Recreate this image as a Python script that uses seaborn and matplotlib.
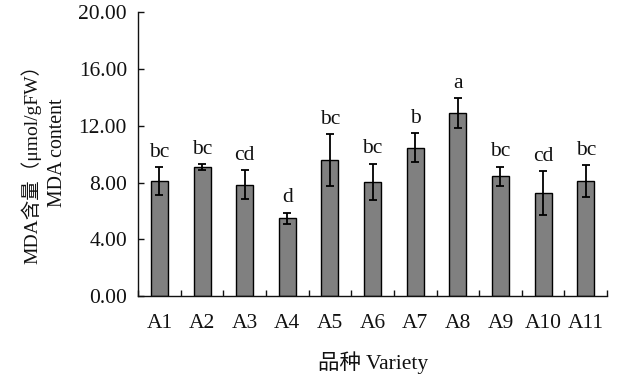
import numpy as np
import pandas as pd
import matplotlib
matplotlib.use("Agg")
import matplotlib.pyplot as plt
import seaborn as sns
from matplotlib.ticker import FixedLocator, FormatStrFormatter

categories = ["A1", "A2", "A3", "A4", "A5", "A6", "A7", "A8", "A9", "A10", "A11"]
means = [8.08, 9.08, 7.86, 5.47, 9.58, 8.05, 10.45, 12.91, 8.45, 7.25, 8.10]
errors = [0.99, 0.20, 1.03, 0.41, 1.85, 1.28, 1.03, 1.03, 0.68, 1.55, 1.12]
letters = ["bc", "bc", "cd", "d", "bc", "bc", "b", "a", "bc", "cd", "bc"]
yticks = [0, 4, 8, 12, 16, 20]

sns.set_theme(style="ticks")
plt.rcParams["font.family"] = ["Liberation Serif", "Noto Sans CJK SC"]
plt.rcParams["axes.unicode_minus"] = False

FS = 15.5
TXT = "#111111"

df = pd.DataFrame({"variety": categories, "mda": means})

fig = plt.figure(figsize=(6.22, 3.78), dpi=100)
ax = fig.add_axes([0.222, 0.217, 0.754, 0.750])

sns.barplot(data=df, x="variety", y="mda", order=categories, color="#808080",
            saturation=1, width=0.4, edgecolor="black", linewidth=1.0,
            errorbar=None, ax=ax)

pos = np.arange(len(categories))
ax.errorbar(pos, means, yerr=errors, fmt="none", ecolor="black",
            elinewidth=1.3, capsize=2.7, capthick=1.3, zorder=5)

for x, m, e, t in zip(pos, means, errors, letters):
    ax.annotate(t, xy=(x, m + e), xytext=(0, 7.5), textcoords="offset points",
                ha="center", va="baseline", fontsize=FS, color=TXT)

ax.set_xlim(-0.5, len(categories) - 0.5)
ax.set_ylim(0, 20)
ax.set_yticks(yticks)
ax.yaxis.set_major_formatter(FormatStrFormatter("%.2f"))
ax.xaxis.set_minor_locator(FixedLocator(np.arange(-0.5, len(categories), 1.0)))

ax.tick_params(axis="y", which="major", direction="in", length=4.5, width=1,
               labelsize=FS, pad=8, colors=TXT)
ax.tick_params(axis="x", which="major", length=0, labelsize=FS, pad=13,
               colors=TXT)
ax.tick_params(axis="x", which="minor", direction="in", length=4.5, width=1,
               colors=TXT)

for s in ["top", "right"]:
    ax.spines[s].set_visible(False)
for s in ["left", "bottom"]:
    ax.spines[s].set_color(TXT)
    ax.spines[s].set_linewidth(1.0)

ax.set_xlabel("品种 Variety", fontsize=FS, labelpad=13, color=TXT)
ax.set_ylabel("")
fig.text(31 / 622, 1 - 159 / 378, "MDA含量（μmol/gFW）", rotation=90,
         ha="center", va="center", fontsize=14, color=TXT)
fig.text(57 / 622, 1 - 152.5 / 378, "MDA content", rotation=90,
         ha="center", va="center", fontsize=14.3, color=TXT)

fig.savefig("out.png", dpi=100)
